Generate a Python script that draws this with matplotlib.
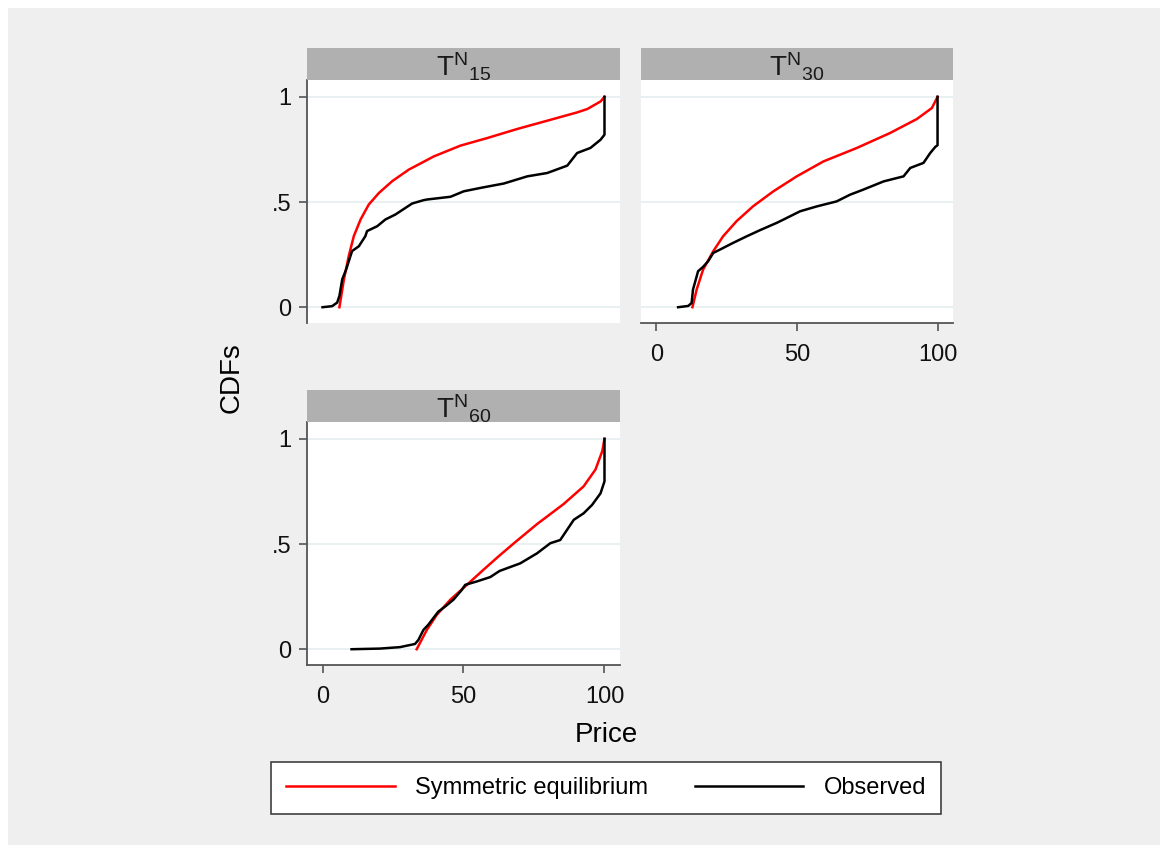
import matplotlib
matplotlib.use('Agg')
import matplotlib.pyplot as plt
from matplotlib.patches import Rectangle
from matplotlib.lines import Line2D

plt.rcParams['font.family'] = ['Liberation Sans', 'DejaVu Sans']

# ---- data ----
titles = [r'$\mathregular{T^{N}{}_{15}}$', r'$\mathregular{T^{N}{}_{30}}$', r'$\mathregular{T^{N}{}_{60}}$']

# T15
eq15_price = [6.0, 7.6, 9.3, 11.1, 13.5, 16.4, 20.0, 24.7, 30.6, 39.5, 48.9, 58.4, 69.0, 80.9,
              90.3, 93.9, 98.6, 100]
eq15_cdf = [0, 0.133, 0.243, 0.338, 0.417, 0.488, 0.543, 0.599, 0.654, 0.717, 0.768, 0.804, 0.847, 0.891,
            0.926, 0.942, 0.978, 1.0]
obs15_price = [0, 3.4, 5.2, 6.0, 7.0, 8.4, 9.9, 10.5, 12.9, 15.2, 15.8, 19.4, 22.3, 25.9, 29.4, 31.8, 35.9,
               37.1, 45.4, 50.1, 56.0, 64.3, 72.6, 79.7, 86.8, 90.3, 95.0, 98.6, 100, 100]
obs15_cdf = [0, 0.005, 0.022, 0.054, 0.133, 0.18, 0.243, 0.267, 0.29, 0.338, 0.362, 0.385, 0.417, 0.441, 0.472,
             0.493, 0.509, 0.512, 0.525, 0.551, 0.567, 0.588, 0.622, 0.638, 0.673, 0.733, 0.757, 0.796, 0.82, 1.0]

# T30
eq30_price = [12.8, 14.3, 16.6, 20.2, 23.7, 28.5, 34.4, 41.6, 49.9, 59.4, 71.3, 83.1, 92.7, 98.0, 100]
eq30_cdf = [0, 0.084, 0.179, 0.266, 0.337, 0.409, 0.48, 0.551, 0.622, 0.693, 0.757, 0.828, 0.895, 0.947, 1.0]
obs30_price = [7.7, 11.3, 12.5, 13.0, 14.0, 14.8, 16.6, 18.4, 20.2, 22.6, 27.3, 32.1, 36.8, 42.8, 45.1,
               51.1, 57.0, 64.1, 68.9, 73.6, 80.8, 87.9, 90.3, 95.0, 97.4, 99.2, 100, 100]
obs30_cdf = [0, 0.006, 0.02, 0.084, 0.132, 0.171, 0.192, 0.219, 0.258, 0.274, 0.306, 0.337, 0.366, 0.401, 0.416,
             0.456, 0.479, 0.503, 0.535, 0.559, 0.598, 0.622, 0.662, 0.686, 0.733, 0.762, 0.77, 1.0]

# T60
eq60_price = [33.4, 37.0, 40.5, 45.3, 51.2, 57.1, 62.4, 68.0, 76.1, 85.5, 92.6, 96.8, 99.2, 100]
eq60_cdf = [0, 0.092, 0.163, 0.235, 0.306, 0.378, 0.441, 0.505, 0.595, 0.69, 0.774, 0.854, 0.941, 1.0]
obs60_price = [10.3, 20.4, 27.5, 32.8, 34.0, 35.8, 37.5, 39.3, 41.1, 43.5, 46.4, 49.4, 50.6, 54.7, 59.5,
               62.8, 70.1, 76.1, 80.8, 84.3, 86.7, 89.1, 92.6, 95.6, 98.6, 100, 100]
obs60_cdf = [0, 0.003, 0.01, 0.025, 0.044, 0.092, 0.116, 0.148, 0.179, 0.203, 0.235, 0.282, 0.306, 0.322, 0.343,
             0.372, 0.408, 0.456, 0.504, 0.519, 0.567, 0.615, 0.646, 0.686, 0.741, 0.798, 1.0]

W, H = 1166, 849
def box(x0, y0, x1, y1):
    return [x0 / W, 1 - y1 / H, (x1 - x0) / W, (y1 - y0) / H]

fig = plt.figure(figsize=(W / 100, H / 100), dpi=100, facecolor='white')
fig.patches.append(Rectangle((8 / W, 4 / H), 1152 / W, 837 / H, transform=fig.transFigure,
                             facecolor='#efefef', edgecolor='none', zorder=-10))

RED = '#ff0000'
panels = [
    (307, 80, 620, 323, eq15_price, eq15_cdf, obs15_price, obs15_cdf, True, False),
    (641, 80, 953, 323, eq30_price, eq30_cdf, obs30_price, obs30_cdf, False, True),
    (307, 422, 620, 665, eq60_price, eq60_cdf, obs60_price, obs60_cdf, True, True),
]

for i, (x0, y0, x1, y1, ep, ec, op, oc, show_y, show_x) in enumerate(panels):
    ax = fig.add_axes(box(x0, y0, x1, y1))
    ax.set_facecolor('white')
    ax.plot(ep, ec, color=RED, lw=1.8, zorder=3)
    ax.plot(op, oc, color='black', lw=1.8, zorder=4)
    ax.set_xlim(-5.5, 105.5)
    ax.set_ylim(-0.075, 1.08)
    ax.set_yticks([0, 0.5, 1])
    ax.set_yticklabels(['0', '.5', '1'])
    ax.set_xticks([0, 50, 100])
    ax.yaxis.grid(True, color='#e4edf0', lw=1.2)
    ax.set_axisbelow(True)
    for s in ax.spines.values():
        s.set_visible(False)
    ax.tick_params(direction='out', length=6, width=1.2, color='#555555', labelsize=17,
                   labelcolor='#111111', pad=5)
    ax.tick_params(axis='x', pad=9)
    if show_y:
        ax.spines['left'].set_visible(True)
        ax.spines['left'].set_color('#555555')
        ax.spines['left'].set_linewidth(1.3)
    else:
        ax.tick_params(axis='y', left=False, labelleft=False)
    if show_x:
        ax.spines['bottom'].set_visible(True)
        ax.spines['bottom'].set_color('#555555')
        ax.spines['bottom'].set_linewidth(1.3)
    else:
        ax.tick_params(axis='x', bottom=False, labelbottom=False)

    st = fig.add_axes(box(x0, y0 - 32, x1, y0))
    st.set_facecolor('#b0b0b0')
    st.set_xticks([])
    st.set_yticks([])
    for s in st.spines.values():
        s.set_visible(False)
    st.text(0.5, 0.42, titles[i], ha='center', va='center', fontsize=20, color='#1a1a1a',
            transform=st.transAxes)

fig.text(232 / W, 1 - 378 / H, 'CDFs', rotation=90, ha='center', va='center', fontsize=20)
fig.text(606 / W, 1 - 735 / H, 'Price', ha='center', va='center', fontsize=20)

handles = [Line2D([], [], color=RED, lw=1.8), Line2D([], [], color='black', lw=1.8)]
leg = fig.legend(handles, ['Symmetric equilibrium', 'Observed'], loc='center',
                 bbox_to_anchor=(606 / W, 1 - 788 / H), ncol=2, frameon=True, fancybox=False,
                 edgecolor='#404040', framealpha=1, fontsize=17, handlelength=4.6,
                 handletextpad=0.85, columnspacing=2.0, borderpad=0.62)
leg.get_frame().set_linewidth(1.2)

fig.savefig('out.png', dpi=100, facecolor=fig.get_facecolor())
